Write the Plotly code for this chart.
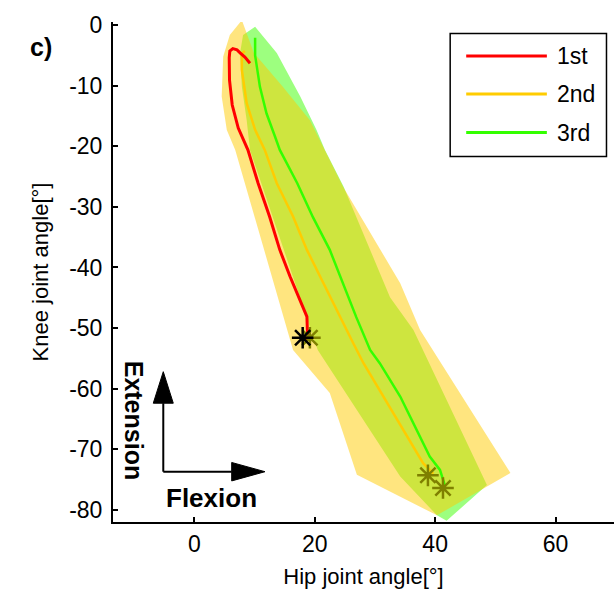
import plotly.graph_objects as go

# ---------------- data (hip angle x, knee angle y), degrees ----------------
series_names = ["1st", "2nd", "3rd"]
line_colors = ["#FF0000", "#FFCC00", "#33FF00"]

red_x = [9.25, 8.4, 7.6, 7.1, 6.4, 5.9, 5.8, 5.8, 5.85, 6.3, 7.3, 8.9, 10.6, 12.5, 14.2, 15.9, 17.6, 18.7, 18.8, 18.8]
red_y = [-6.3, -5.3, -4.6, -4.1, -3.9, -4.3, -5.4, -6.6, -9.1, -13.2, -17.0, -20.6, -26.1, -31.6, -37.1, -41.5, -45.4, -48.1, -50.9, -52.0]

yel_x = [8.4, 7.9, 7.9, 8.7, 10.1, 11.7, 13.7, 16.4, 18.7, 21.4, 23.7, 26.4, 28.1, 31.4, 34.7, 38.0, 39.7]
yel_y = [-4.3, -4.7, -7.4, -12.9, -17.3, -20.6, -26.1, -31.6, -37.1, -42.6, -47.0, -52.5, -55.8, -61.3, -66.8, -72.3, -74.0]

grn_x = [10.1, 10.1, 10.9, 12.0, 13.4, 14.2, 17.1, 19.7, 22.5, 24.7, 26.9, 29.2, 30.8, 34.2, 36.9, 39.1, 40.8, 41.6]
grn_y = [-2.1, -5.0, -10.2, -14.6, -18.4, -20.6, -26.1, -31.7, -37.1, -42.6, -48.2, -53.6, -55.8, -61.3, -66.8, -71.2, -73.4, -75.9]

# variability bands (outline polygons)
yel_band_x = [7.9, 9.9, 14.7, 19.2, 24.7, 34.2, 37.5, 52.5, 40.3, 27.0, 22.5, 16.4, 6.8, 5.4, 4.55, 4.8, 5.9, 7.9]
yel_band_y = [0.8, -4.6, -10.2, -15.7, -26.7, -42.6, -50.3, -73.9, -80.9, -74.2, -60.7, -53.6, -20.6, -17.3, -11.8, -5.2, -1.65, 0.8]

grn_band_x = [10.1, 13.7, 17.6, 20.3, 21.7, 24.8, 32.5, 36.4, 48.6, 41.9, 40.3, 34.2, 20.5, 9.25, 8.7, 7.9, 7.6, 8.1, 10.1]
grn_band_y = [-0.3, -4.6, -11.8, -17.3, -20.6, -26.7, -44.9, -50.3, -75.9, -81.8, -80.9, -74.5, -53.6, -20.6, -15.7, -10.2, -4.6, -1.65, -0.3]

# end-point markers
black_pt_x = [18.0]
black_pt_y = [-51.6]
olive_pt_x = [19.2, 38.8, 41.3]
olive_pt_y = [-51.6, -74.3, -76.4]

x_ticks = [0, 20, 40, 60]
x_tick_labels = ["0", "20", "40", "60"]
y_ticks = [0, -10, -20, -30, -40, -50, -60, -70, -80]
y_tick_labels = ["0", "-10", "-20", "-30", "-40", "-50", "-60", "-70", "-80"]

FONT = "Liberation Sans, Arial, sans-serif"
FS = 23

fig = go.Figure()

fig.add_trace(go.Scatter(x=grn_band_x, y=grn_band_y, mode="lines", fill="toself",
                         fillcolor="rgba(60,255,0,0.5)", line=dict(width=0),
                         hoverinfo="skip", showlegend=False))
fig.add_trace(go.Scatter(x=yel_band_x, y=yel_band_y, mode="lines", fill="toself",
                         fillcolor="rgba(255,204,0,0.5)", line=dict(width=0),
                         hoverinfo="skip", showlegend=False))

fig.add_trace(go.Scatter(x=yel_x, y=yel_y, mode="lines", name=series_names[1],
                         line=dict(color=line_colors[1], width=2.5), showlegend=False))
fig.add_trace(go.Scatter(x=grn_x, y=grn_y, mode="lines", name=series_names[2],
                         line=dict(color=line_colors[2], width=2.5), showlegend=False))
fig.add_trace(go.Scatter(x=red_x, y=red_y, mode="lines", name=series_names[0],
                         line=dict(color=line_colors[0], width=3), showlegend=False))

fig.add_trace(go.Scatter(x=olive_pt_x, y=olive_pt_y, mode="markers",
                         marker=dict(symbol="asterisk-open", size=18, color="#7F8000",
                                     line=dict(color="#7F8000", width=2.5)),
                         showlegend=False))
fig.add_trace(go.Scatter(x=black_pt_x, y=black_pt_y, mode="markers",
                         marker=dict(symbol="asterisk-open", size=18, color="black",
                                     line=dict(color="black", width=2.5)),
                         showlegend=False))

# ---------------- manual legend (long line samples) ----------------
shapes = []
annotations = []
lx0, lx1, ly0, ly1 = 0.673, 0.985, 0.731, 0.977
shapes.append(dict(type="rect", xref="paper", yref="paper", x0=lx0, x1=lx1, y0=ly0, y1=ly1,
                   line=dict(color="black", width=1.5), fillcolor="white", layer="above"))
leg_rows = [0.932, 0.856, 0.779]
for name, col, yy in zip(series_names, line_colors, leg_rows):
    shapes.append(dict(type="line", xref="paper", yref="paper", x0=0.705, x1=0.866, y0=yy, y1=yy,
                       line=dict(color=col, width=3), layer="above"))
    annotations.append(dict(text=name, xref="paper", yref="paper", x=0.882, y=yy,
                            xanchor="left", yanchor="middle", showarrow=False,
                            font=dict(family=FONT, size=FS, color="black")))

# ---------------- direction arrows ----------------
cx, cy = -5.15, -73.7
shapes.append(dict(type="line", xref="x", yref="y", x0=cx, x1=cx, y0=cy, y1=-62.4,
                   line=dict(color="black", width=2)))
shapes.append(dict(type="line", xref="x", yref="y", x0=cx, x1=6.21, y0=cy, y1=cy,
                   line=dict(color="black", width=2)))
shapes.append(dict(type="path", xref="x", yref="y",
                   path=f"M {cx-1.66},-62.4 L {cx+1.66},-62.4 L {cx},-57.2 Z",
                   fillcolor="black", line=dict(color="black", width=1)))
shapes.append(dict(type="path", xref="x", yref="y",
                   path=f"M 6.21,{cy-1.52} L 6.21,{cy+1.52} L 11.74,{cy} Z",
                   fillcolor="black", line=dict(color="black", width=1)))
annotations.append(dict(text="<b>Flexion</b>", x=2.86, y=-78.0, xref="x", yref="y",
                        showarrow=False, font=dict(family=FONT, size=26, color="black")))
annotations.append(dict(text="<b>Extension</b>", x=-10.1, y=-65.2, xref="x", yref="y",
                        textangle=90, showarrow=False,
                        font=dict(family=FONT, size=25, color="black")))
annotations.append(dict(text="<b>c)</b>", x=-0.17, y=0.982, xref="paper", yref="paper",
                        showarrow=False, font=dict(family=FONT, size=25, color="black")))

fig.update_layout(
    width=614, height=601,
    margin=dict(l=113, r=0, t=22, b=79),
    paper_bgcolor="white", plot_bgcolor="white",
    font=dict(family=FONT, size=FS, color="black"),
    showlegend=False,
    shapes=shapes, annotations=annotations,
    xaxis=dict(range=[-13.5, 69.7], tickvals=x_ticks, ticktext=x_tick_labels,
               showgrid=False, zeroline=False,
               showline=True, linecolor="black", linewidth=2, ticks="inside", ticklen=5,
               tickcolor="black", tickwidth=1.5,
               title=dict(text="Hip joint angle[°]", standoff=13,
                          font=dict(family=FONT, size=22, color="black")),
               tickfont=dict(family=FONT, size=FS)),
    yaxis=dict(range=[-82, 0.5], tickvals=y_ticks, ticktext=y_tick_labels,
               showgrid=False, zeroline=False,
               showline=True, linecolor="black", linewidth=2, ticks="inside", ticklen=5,
               tickcolor="black", tickwidth=1.5, ticklabelstandoff=4,
               title=dict(text="Knee joint angle[°]", standoff=14,
                          font=dict(family=FONT, size=22, color="black")),
               tickfont=dict(family=FONT, size=FS)),
)

fig.write_html("out.html")
